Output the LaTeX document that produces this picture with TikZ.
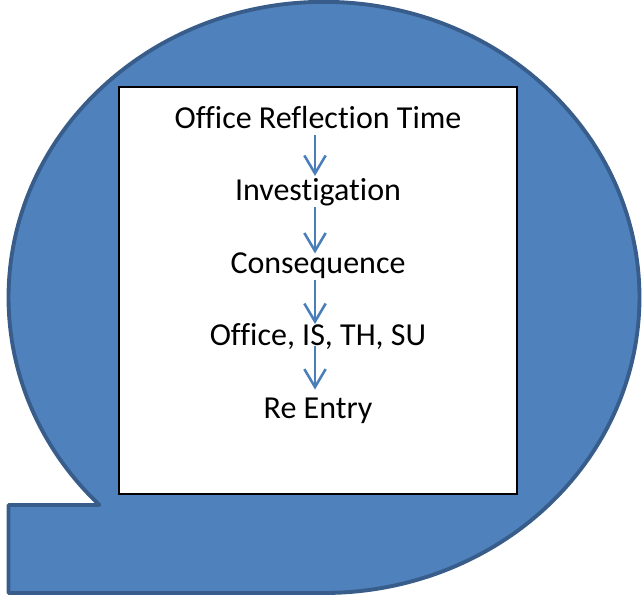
\documentclass[tikz,border=0pt]{standalone}
\usepackage{fontspec}
\setmainfont{Carlito}[Ligatures=NoCommon]
\usetikzlibrary{arrows.meta, positioning, calc}
\definecolor{tapefill}{HTML}{4F81BD}
\definecolor{tapeline}{HTML}{385D8A}
\definecolor{flowblue}{HTML}{4A7EBB}

\begin{document}
\begin{tikzpicture}[x=0.75pt, y=-0.75pt, node distance=33pt, every node/.style={font=\fontsize{24}{29}\selectfont}]
    \tikzstyle{tape} = [draw=tapeline, fill=tapefill, line width=2.9pt, line join=round]
    \tikzstyle{panel} = [draw=black, fill=white, line width=1.6pt]
    \tikzstyle{stage} = [inner sep=0pt, text height=16pt, text depth=5pt, align=center]
    \tikzstyle{flow} = [draw=flowblue, line width=1.9pt, -{Straight Barb[length=13.5pt, width=16pt]}]

    \useasboundingbox (0,0) rectangle (642,604);
    \draw[tape] (324,297.4) ++(135.4:315.5 and 295.6) arc[start angle=135.4, end angle=450, x radius=315.5, y radius=295.6] -- (8.5,593) -- (8.5,505) -- cycle;
    \draw[panel] (119,87) rectangle (517,494);

    \node[stage, anchor=base] (reflect) at (318,128) {Office Reflection Time};
    \node[stage, below=of reflect] (investigate) {Investigation};
    \node[stage, below=of investigate] (consequence) {Consequence};
    \node[stage, below=of consequence] (office) {Office, IS, TH, SU};
    \node[stage, below=of office] (reentry) {Re Entry};

    \draw[flow] ($(reflect.south)+(-3,0)$) -- ($(investigate.north)+(-3,-3)$);
    \draw[flow] ($(investigate.south)+(-3,0)$) -- ($(consequence.north)+(-3,2)$);
    \draw[flow] ($(consequence.south)+(-3,0)$) -- ($(office.north)+(-3,0)$);
    \draw[flow] ($(office.south)+(-3,-7)$) -- ($(reentry.north)+(-3,-7)$);
\end{tikzpicture}
\end{document}
